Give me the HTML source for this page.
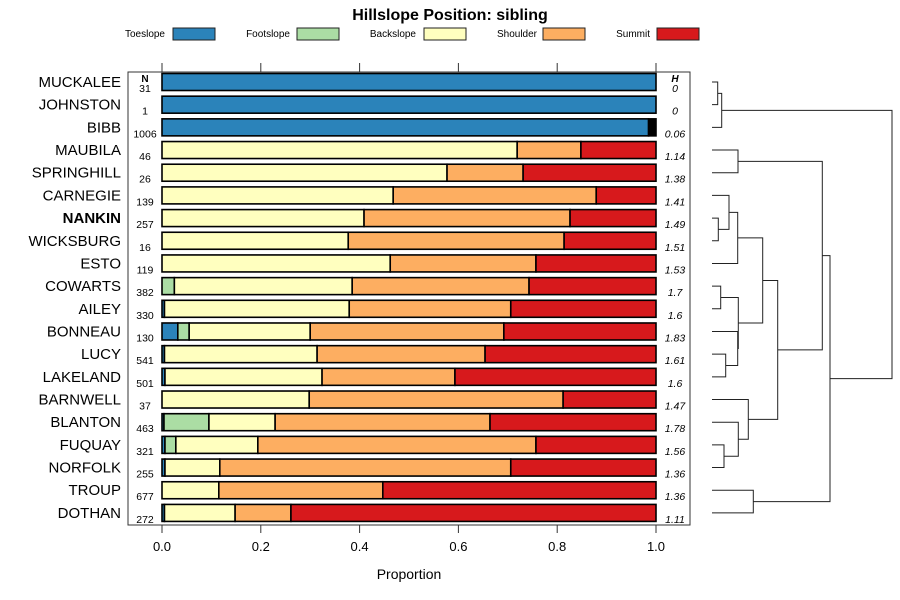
<!DOCTYPE html>
<html><head><meta charset="utf-8"><style>
body{margin:0;background:#fff;overflow:hidden}
svg{font-family:"Liberation Sans",sans-serif;display:block}
</style></head><body>
<svg id="c" width="900" height="600"></svg>
<script>
const names=["MUCKALEE","JOHNSTON","BIBB","MAUBILA","SPRINGHILL","CARNEGIE","NANKIN","WICKSBURG","ESTO","COWARTS","AILEY","BONNEAU","LUCY","LAKELAND","BARNWELL","BLANTON","FUQUAY","NORFOLK","TROUP","DOTHAN"];
const nVals=[31,1,1006,46,26,139,257,16,119,382,330,130,541,501,37,463,321,255,677,272];
const hVals=["0","0","0.06","1.14","1.38","1.41","1.49","1.51","1.53","1.7","1.6","1.83","1.61","1.6","1.47","1.78","1.56","1.36","1.36","1.11"];
const toeslope=[1,1,0.985,0,0,0,0,0,0,0,0.005,0.032,0.005,0.006,0,0.004,0.006,0.006,0,0.005];
const footslope=[0,0,0,0,0,0,0,0,0,0.025,0,0.023,0,0,0,0.091,0.022,0,0,0];
const backslope=[0,0,0,0.719,0.577,0.468,0.409,0.377,0.462,0.36,0.374,0.245,0.309,0.318,0.298,0.134,0.166,0.111,0.115,0.143];
const shoulder=[0,0,0,0.129,0.154,0.411,0.417,0.437,0.295,0.358,0.327,0.392,0.34,0.269,0.514,0.435,0.563,0.589,0.332,0.113];
const summit=[0,0,0,0.152,0.269,0.121,0.174,0.186,0.243,0.257,0.294,0.308,0.346,0.407,0.188,0.336,0.243,0.294,0.553,0.739];
const other=[0,0,0.015,0,0,0,0,0,0,0,0,0,0,0,0,0,0,0,0,0];
const seriesNames=["Toeslope","Footslope","Backslope","Shoulder","Summit"];
const xTicks=[0,0.2,0.4,0.6,0.8,1.0];
const xTickLabels=["0.0","0.2","0.4","0.6","0.8","1.0"];
// dendrogram nodes: [left,right,height]; leaves are row indices
const nA=[[0,1,5.7],2,9.7];
const nB=[3,4,26];
const nC1=[[5,[6,7,6.3],17],8,25.7];
const nC2=[[9,10,8.7],[11,[12,13,13.7],25.7],26.3];
const nC=[nC1,nC2,50.7];
const nD=[14,[15,[16,17,12],26.3],36.3];
const nE=[nC,nD,65.7];
const nF=[nB,nE,110.3];
const nG=[18,19,41.3];
const nH=[nF,nG,118];
const tree=[nA,nH,180];

const cols=["#2b83ba","#abdda4","#ffffbf","#fdae61","#d7191c","#000"];
const S=document.getElementById('c'),NS="http://www.w3.org/2000/svg";
function mk(t,a,p){const e=document.createElementNS(NS,t);for(const k in a)e.setAttribute(k,a[k]);(p||S).appendChild(e);return e;}
const X=v=>162+v*494, Y=i=>82+i*22.68;
const DX=h=>712+h;

let t=mk('text',{x:450,y:20,'text-anchor':'middle','font-size':16,'font-weight':'bold'});t.textContent="Hillslope Position: sibling";


const lgX=[[165,173],[290,297],[416,424],[537,543],[650,657]];
seriesNames.forEach((s,i)=>{
 const g=mk('g',{});
 
 
 const tx=mk('text',{x:lgX[i][0],y:37,'text-anchor':'end','font-size':10},g);tx.textContent=s;
 mk('rect',{x:lgX[i][1],y:28,width:42,height:12,fill:cols[i],stroke:'#222','stroke-width':1},g);
});
const frame=mk('rect',{x:128,y:72,width:562,height:453,fill:'none',stroke:'#333','stroke-width':1});


xTicks.forEach((v,i)=>{
 mk('line',{x1:X(v),x2:X(v),y1:63,y2:72,stroke:'#333'});
 mk('line',{x1:X(v),x2:X(v),y1:525,y2:533,stroke:'#333'});
 const l=mk('text',{x:X(v),y:551,'text-anchor':'middle','font-size':13});l.textContent=xTickLabels[i];
 
 
});
let xl=mk('text',{x:409,y:579,'text-anchor':'middle','font-size':14});xl.textContent="Proportion";


let nh=mk('text',{x:145,y:82,'text-anchor':'middle','font-size':10,'font-weight':'bold'});nh.textContent="N";
let hh=mk('text',{x:675,y:82,'text-anchor':'middle','font-size':10,'font-weight':'bold','font-style':'italic'});hh.textContent="H";
names.forEach((n,i)=>{
 const y=Y(i);
 const lb=mk('text',{x:121,y:y+5,'text-anchor':'end','font-size':15,'font-weight':n==="NANKIN"?'bold':'normal'});lb.textContent=n;
 
 
 const nt=mk('text',{x:145,y:y+10,'text-anchor':'middle','font-size':10.5});nt.textContent=nVals[i];
 
 
 const ht=mk('text',{x:675,y:y+10,'text-anchor':'middle','font-size':10.5,'font-style':'italic'});ht.textContent=hVals[i];
 
 
 const vals=[toeslope[i],footslope[i],backslope[i],shoulder[i],summit[i],other[i]];
 let acc=0;
 vals.forEach((v,k)=>{
  if(v<=0)return;
  const r=mk('rect',{x:X(acc),y:y-8.5,width:Math.max(X(acc+v)-X(acc),0.5),height:17,fill:cols[k],stroke:'#000','stroke-width':1.6});
  
  
  acc+=v;
 });
});
function drawNode(n){
 if(typeof n==='number')return {y:Y(n),h:0};
 const a=drawNode(n[0]),b=drawNode(n[1]),h=n[2];
 const p=mk('path',{d:`M${DX(a.h)},${a.y}H${DX(h)}V${b.y}H${DX(b.h)}`,fill:'none',stroke:'#222','stroke-width':1});
 
 
 return {y:(a.y+b.y)/2,h:h};
}
drawNode(tree);
</script>
</body></html>
